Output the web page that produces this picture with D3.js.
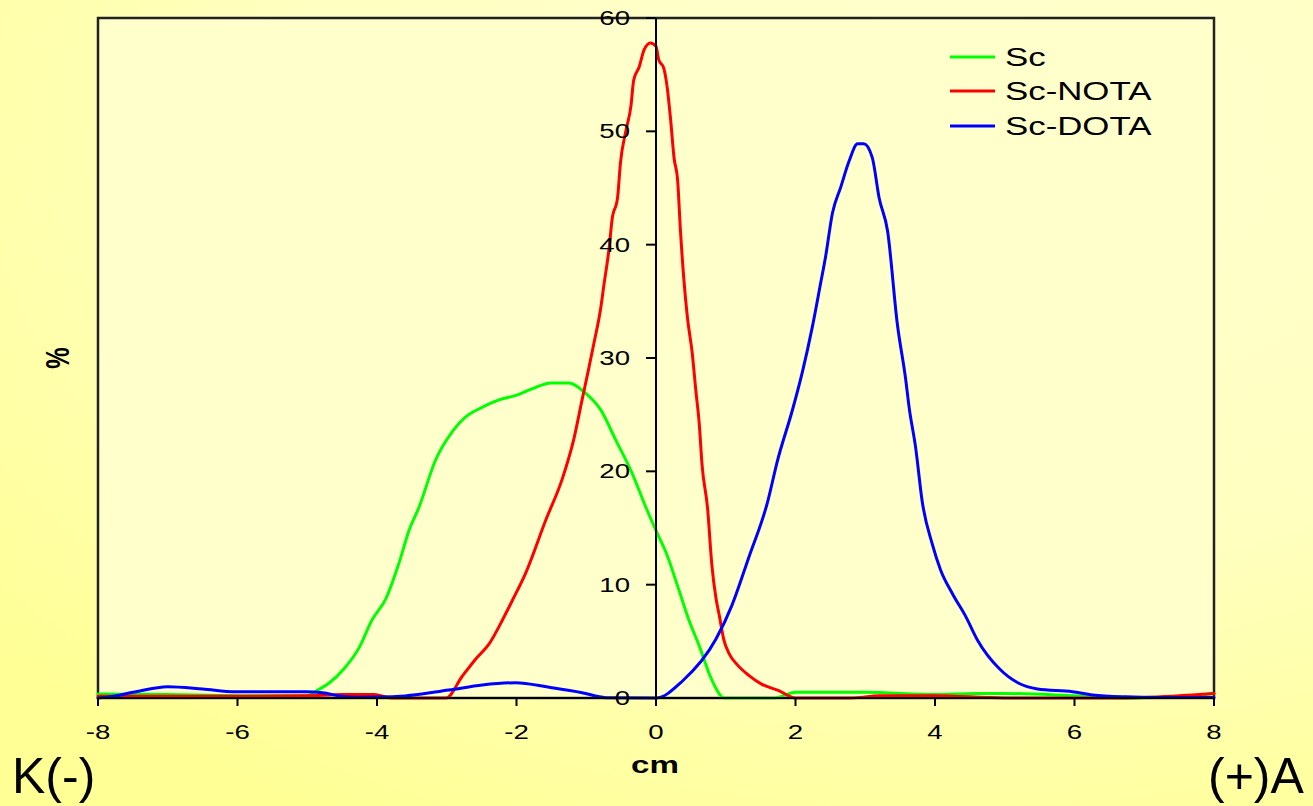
<!DOCTYPE html>
<html>
<head>
<meta charset="utf-8">
<script src="https://cdn.jsdelivr.net/npm/d3@7"></script>
<style>
html,body{margin:0;padding:0;overflow:hidden;}
svg{display:block;font-family:"Liberation Sans",Arial,sans-serif;}
</style>
</head>
<body>
<svg id="chart" width="1313" height="806"></svg>
<script>
// ---- data ----
const seriesNames = ["Sc", "Sc-NOTA", "Sc-DOTA"];
const seriesColors = ["#00ff00", "#ff0000", "#0000ff"];

const scX = [-8,-7,-6,-5,-4.85,-4.69,-4.47,-4.26,-4.07,-3.87,-3.68,-3.54,-3.4,-3.16,-2.92,-2.71,-2.54,-2.25,-2.01,-1.77,-1.51,-1.25,-1.01,-0.79,-0.58,-0.34,-0.15,0.02,0.14,0.33,0.47,0.62,0.8,0.98,1.7,2.0,3.0,4.0,4.6,5.0,6.0,6.8,7.5,8];
const scY = [0.35,0.3,0.2,0.2,0.7,1.3,2.6,4.4,6.9,8.8,12,14.8,16.8,21,23.5,24.9,25.5,26.3,26.7,27.3,27.8,27.8,26.9,25.4,22.8,19.8,16.9,14.5,12.9,9.5,6.9,4.6,1.6,0,0,0.5,0.5,0.3,0.4,0.4,0.2,0,0.1,0.4];

const notaX = [-8,-6,-5,-4.5,-4.04,-3.8,-3.01,-2.78,-2.59,-2.39,-2.2,-2.06,-1.87,-1.58,-1.34,-1.18,-1.06,-0.96,-0.89,-0.79,-0.75,-0.67,-0.63,-0.55,-0.51,-0.43,-0.36,-0.32,-0.24,-0.17,-0.08,0,0.04,0.11,0.16,0.21,0.26,0.31,0.35,0.4,0.45,0.52,0.57,0.62,0.66,0.74,0.8,0.86,0.91,0.97,1.05,1.17,1.33,1.52,1.76,2.0,2.8,3.2,4.0,5.0,6.5,7.0,8];
const notaY = [0.15,0.15,0.2,0.3,0.3,0,0,1.9,3.4,4.8,6.9,8.6,11,15.7,19.4,22.8,26.3,29.2,31.3,34.5,36.3,39.8,42.2,44.2,47.2,50.1,52.2,54.5,55.7,57.2,57.8,57.5,56.3,55.6,53.9,51,47.6,45.7,41.3,36.9,33.6,30.4,27.2,24.2,20.6,16.7,11.8,8.8,7.2,5.2,3.9,2.9,2.0,1.2,0.65,0,0,0.2,0.2,0,0,0.05,0.4];

const dotaX = [-8,-7.84,-7.5,-7.0,-6.5,-6.03,-5.02,-4.78,-4.54,-4.26,-3.78,-2.97,-2.49,-2.01,-1.53,-1.06,-0.72,0,0.38,0.86,1.09,1.33,1.6,1.74,1.96,2.1,2.24,2.36,2.43,2.53,2.65,2.77,2.89,2.98,3.1,3.2,3.32,3.46,3.58,3.63,3.72,3.82,3.96,4.08,4.25,4.44,4.61,4.92,5.2,5.47,5.97,6.26,6.73,7.2,8];
const dotaY = [0,0.1,0.5,1.0,0.8,0.55,0.55,0.47,0.18,0.06,0.1,0.7,1.15,1.35,0.94,0.47,0.03,0,1.5,5.2,8.2,12.4,17.3,20.9,25.5,28.8,32.7,36.6,38.9,42.8,45.1,47.4,48.9,48.9,47.7,44.1,41.2,33.0,28.1,25.6,22.2,17.2,13.6,11.3,9.2,7.2,5.1,2.6,1.3,0.8,0.56,0.27,0.1,0.05,0.05];

const xTicks = [-8,-6,-4,-2,0,2,4,6,8];
const yTicks = [0,10,20,30,40,50,60];
const xLabel = "cm";
const yLabel = "%";
const leftNote = "K(-)";
const rightNote = "(+)A";

// ---- drawing ----
const svg = d3.select("#chart");
const W = 1313, H = 806;
const SX = 1.38; // horizontal text stretch seen in the reference

const defs = svg.append("defs");
const bg = defs.append("radialGradient").attr("id","bg")
  .attr("cx","72%").attr("cy","18%").attr("r","95%");
bg.append("stop").attr("offset","0%").attr("stop-color","#ffffd0");
bg.append("stop").attr("offset","55%").attr("stop-color","#ffffc0");
bg.append("stop").attr("offset","100%").attr("stop-color","#ffff96");
svg.append("rect").attr("width",W).attr("height",H).attr("fill","url(#bg)");

const x = d3.scaleLinear().domain([-8,8]).range([98,1214]);
const y = d3.scaleLinear().domain([0,60]).range([698,18]);

// plot area
svg.append("rect").attr("x",x(-8)).attr("y",y(60))
  .attr("width",x(8)-x(-8)).attr("height",y(0)-y(60))
  .attr("fill","#ffffcc").attr("stroke","#222").attr("stroke-width",2.5);

// series
const series = [
  {name:seriesNames[0], color:seriesColors[0], xs:scX, ys:scY},
  {name:seriesNames[1], color:seriesColors[1], xs:notaX, ys:notaY},
  {name:seriesNames[2], color:seriesColors[2], xs:dotaX, ys:dotaY}
];
const line = d3.line().x(d=>x(d[0])).y(d=>y(d[1])).curve(d3.curveMonotoneX);
series.forEach(s=>{
  const pts = s.xs.map((v,i)=>[v,s.ys[i]]);
  svg.append("path").datum(pts).attr("d",line)
    .attr("fill","none").attr("stroke",s.color).attr("stroke-width",3)
    .attr("stroke-linejoin","round").attr("stroke-linecap","round");
});

// x axis
const xAxis = svg.append("g").attr("transform",`translate(0,${y(0)})`);
xAxis.append("line").attr("x1",x(-8)).attr("x2",x(8)).attr("stroke","#000").attr("stroke-width",2);
xAxis.selectAll("line.tk").data(xTicks).enter().append("line").attr("class","tk")
  .attr("x1",d=>x(d)).attr("x2",d=>x(d)).attr("y1",0).attr("y2",8)
  .attr("stroke","#000").attr("stroke-width",2);
xAxis.selectAll("text").data(xTicks).enter().append("text")
  .attr("transform",d=>`translate(${x(d)},41) scale(${SX},1)`)
  .attr("text-anchor","middle").attr("font-size",20).attr("fill","#000")
  .text(d=>d);

// y axis (at x = 0)
const yAxis = svg.append("g").attr("transform",`translate(${x(0)},0)`);
yAxis.append("line").attr("y1",y(0)).attr("y2",y(60)).attr("stroke","#000").attr("stroke-width",2);
yAxis.selectAll("line.tk").data(yTicks).enter().append("line").attr("class","tk")
  .attr("x1",-10).attr("x2",0).attr("y1",d=>y(d)).attr("y2",d=>y(d))
  .attr("stroke","#000").attr("stroke-width",2);
yAxis.selectAll("text").data(yTicks).enter().append("text")
  .attr("transform",d=>`translate(-26,${y(d)+7}) scale(${SX},1)`)
  .attr("text-anchor","end").attr("font-size",20).attr("fill","#000")
  .text(d=>d);

// axis titles
svg.append("text").attr("transform",`translate(655,773) scale(${SX},1)`)
  .attr("text-anchor","middle").attr("font-size",24).attr("font-weight","bold").text(xLabel);
svg.append("text").attr("transform",`translate(69,358) scale(${SX},1) rotate(-90)`)
  .attr("text-anchor","middle").attr("font-size",24).attr("font-weight","bold").text(yLabel);

// legend
const lg = svg.append("g");
series.forEach((s,i)=>{
  const ly = [57,91,126][i];
  lg.append("line").attr("x1",950).attr("x2",995).attr("y1",ly).attr("y2",ly)
    .attr("stroke",s.color).attr("stroke-width",3);
  lg.append("text").attr("transform",`translate(1005,${ly+9}) scale(1.34,1)`)
    .attr("font-size",26).attr("fill","#000").text(s.name);
});

// slide notes
svg.append("text").attr("x",12).attr("y",793).attr("font-size",50).attr("fill","#000").text(leftNote);
svg.append("text").attr("x",1208).attr("y",793).attr("font-size",50).attr("fill","#000").text(rightNote);
</script>
</body>
</html>
